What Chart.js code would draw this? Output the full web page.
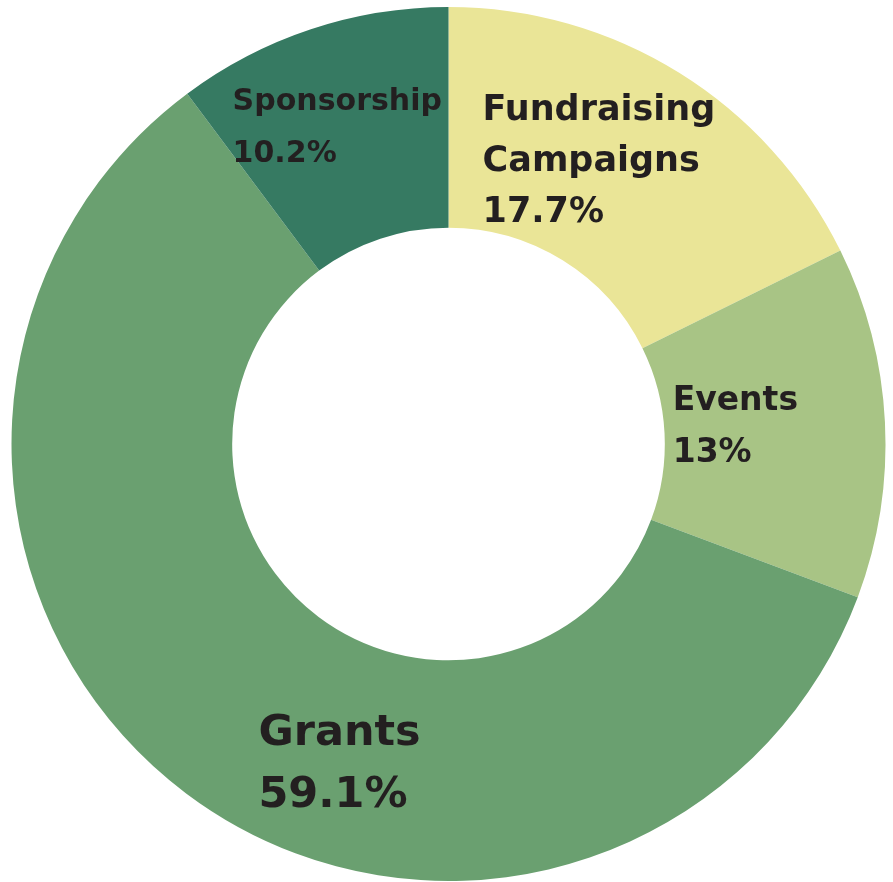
<!DOCTYPE html>
<html>
<head>
<meta charset="utf-8">
<script src="https://cdn.jsdelivr.net/npm/chart.js@4.4.1/dist/chart.umd.min.js"></script>
<style>
  html, body { margin: 0; padding: 0; background: #ffffff; }
  #wrap { width: 893px; height: 882px; }
</style>
</head>
<body>
<div id="wrap"><canvas id="graficoFontes"></canvas></div>
<script>
const categorias = ['Fundraising Campaigns', 'Events', 'Grants', 'Sponsorship'];
const percentuais = [17.7, 13, 59.1, 10.2];
const cores = ['#eae597', '#a8c485', '#6aa070', '#367a62'];

// linhas de texto de cada rótulo (o último vem do valor)
const rotulos = [
  ['Fundraising', 'Campaigns'],
  ['Events'],
  ['Grants'],
  ['Sponsorship']
];

// posição do rótulo em relação ao centro, em frações do raio externo
const posRotulos = [
  { dx: 0.078, dy: -0.742, size: 35, lh: 51 },
  { dx: 0.513, dy: -0.078, size: 33, lh: 52 },
  { dx: -0.435, dy: 0.689, size: 43, lh: 62 },
  { dx: -0.494, dy: -0.764, size: 30, lh: 52 }
];

const rotulosPlugin = {
  id: 'rotulos',
  afterDatasetsDraw(chart) {
    const { ctx } = chart;
    const arc = chart.getDatasetMeta(0).data[0];
    if (!arc) return;
    const cx = arc.x, cy = arc.y, r = arc.outerRadius;
    ctx.save();
    ctx.fillStyle = '#231f20';
    ctx.textAlign = 'left';
    ctx.textBaseline = 'alphabetic';
    percentuais.forEach((v, i) => {
      const p = posRotulos[i];
      const linhas = rotulos[i].concat([v + '%']);
      ctx.font = `bold ${p.size}px "DejaVu Sans", sans-serif`;
      linhas.forEach((t, j) => {
        ctx.fillText(t, cx + p.dx * r, cy + p.dy * r + j * p.lh);
      });
    });
    ctx.restore();
  }
};

function renderGrafico() {
  const ctx = document.getElementById('graficoFontes');
  new Chart(ctx, {
    type: 'doughnut',
    data: {
      labels: categorias,
      datasets: [{
        data: percentuais,
        backgroundColor: cores,
        borderWidth: 0
      }]
    },
    options: {
      responsive: true,
      maintainAspectRatio: false,
      animation: false,
      cutout: '49.5%',
      layout: { padding: { top: 7, bottom: 1, left: 11, right: 7 } },
      plugins: {
        legend: { display: false },
        tooltip: { enabled: false }
      }
    },
    plugins: [rotulosPlugin]
  });
}

renderGrafico();
</script>
</body>
</html>
